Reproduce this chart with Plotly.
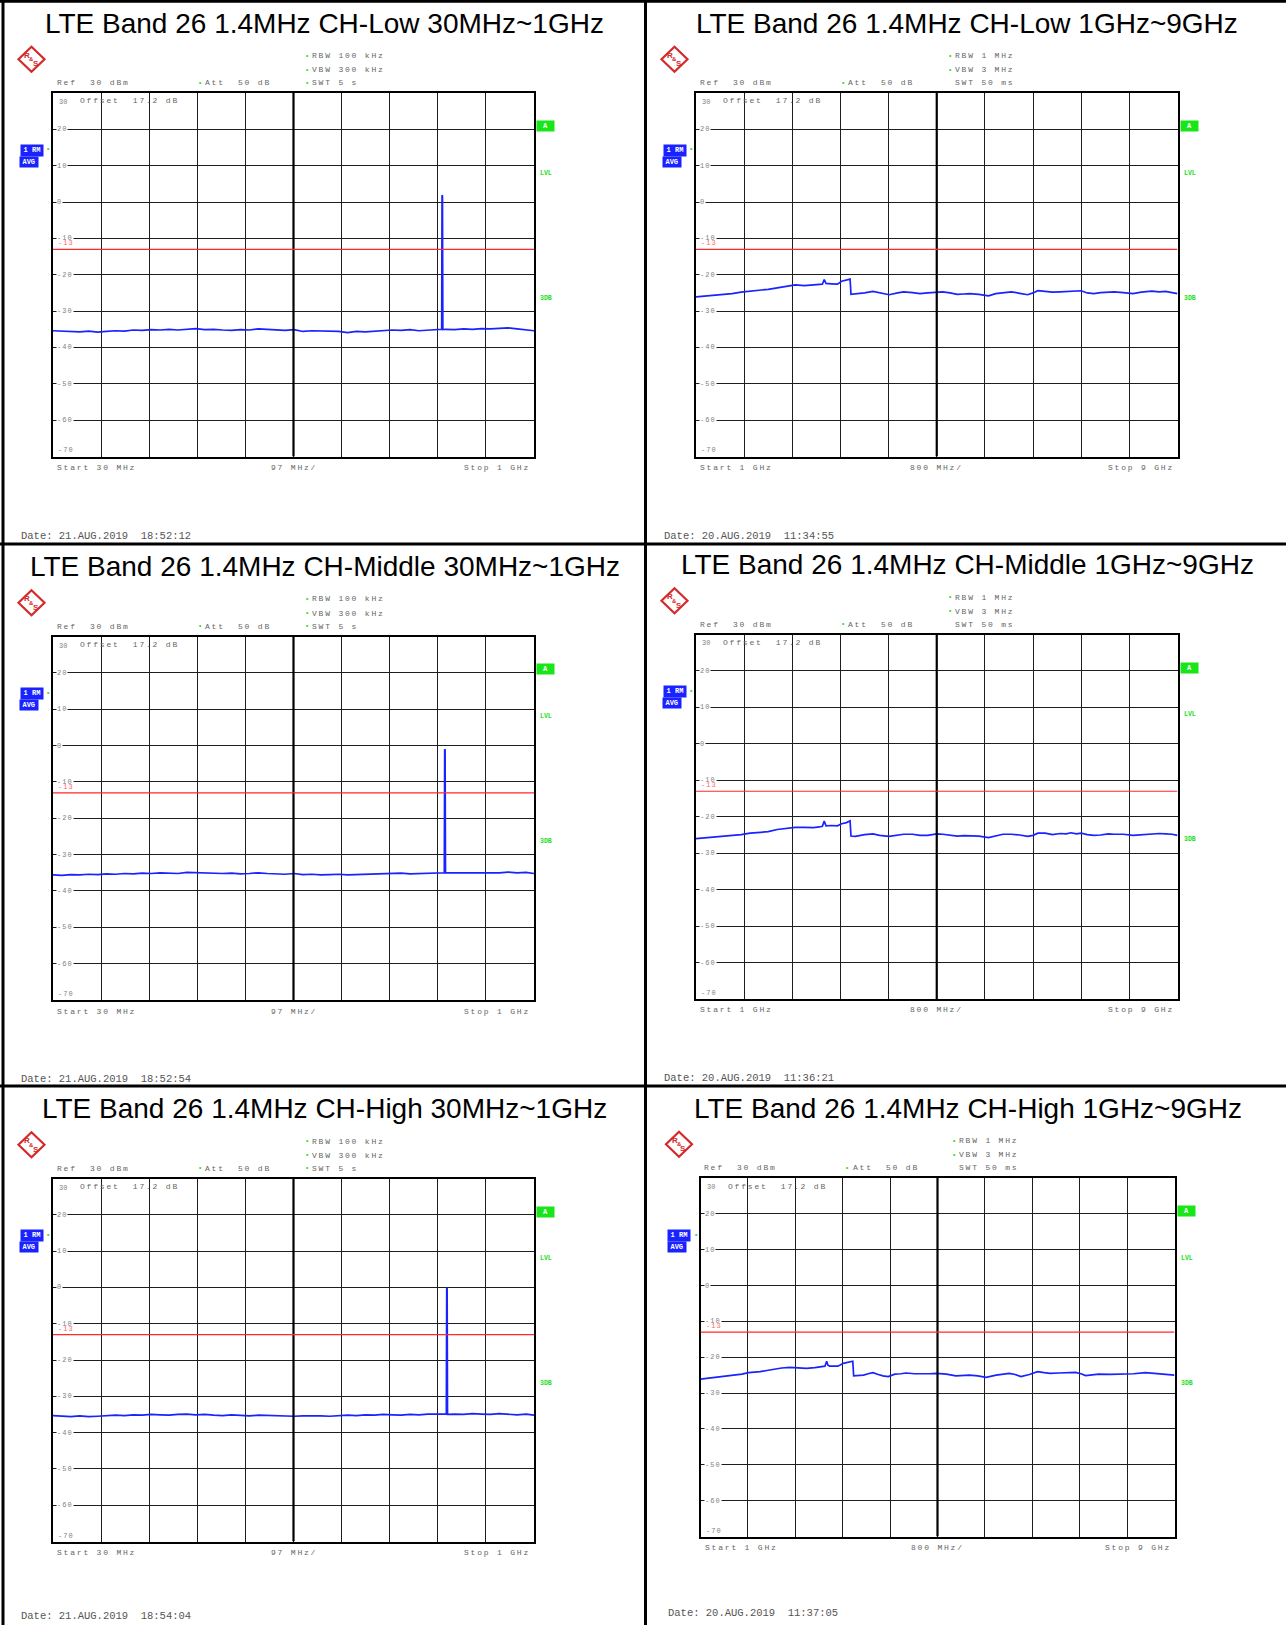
import plotly.graph_objects as go

W, H = 1286, 1625

# ---------------- data ----------------
titles = [
    "LTE Band 26 1.4MHz CH-Low 30MHz~1GHz",
    "LTE Band 26 1.4MHz CH-Low 1GHz~9GHz",
    "LTE Band 26 1.4MHz CH-Middle 30MHz~1GHz",
    "LTE Band 26 1.4MHz CH-Middle 1GHz~9GHz",
    "LTE Band 26 1.4MHz CH-High 30MHz~1GHz",
    "LTE Band 26 1.4MHz CH-High 1GHz~9GHz",
]
dates = [
    "Date: 21.AUG.2019  18:52:12",
    "Date: 20.AUG.2019  11:34:55",
    "Date: 21.AUG.2019  18:52:54",
    "Date: 20.AUG.2019  11:36:21",
    "Date: 21.AUG.2019  18:54:04",
    "Date: 20.AUG.2019  11:37:05",
]
lo_header = ["RBW 100 kHz", "VBW 300 kHz", "SWT 5 s"]
hi_header = ["RBW 1 MHz", "VBW 3 MHz", "SWT 50 ms"]
lo_axis = ["Start 30 MHz", "97 MHz/", "Stop 1 GHz"]
hi_axis = ["Start 1 GHz", "800 MHz/", "Stop 9 GHz"]

y_ticks = [20, 10, 0, -10, -20, -30, -40, -50, -60]
limit_dbm = -13

# 30 MHz ~ 1 GHz sweeps (MHz, dBm)
lo_freq = [30, 48, 66, 84, 102, 120, 138, 156, 174, 192, 210, 228, 246, 264, 282,
           300, 318, 336, 354, 372, 390, 408, 426, 444, 462, 480, 498, 516, 534, 552,
           570, 588, 606, 624, 642, 660, 678, 696, 714, 732, 750, 768, 786, 804, 822,
           840, 858, 876, 894, 912, 930, 948, 966, 984, 1000]
lo_level_low = [-35.4, -35.5, -35.6, -35.7, -35.5, -35.8, -35.6, -35.4, -35.5, -35.2,
                -35.3, -35.1, -35.2, -35.0, -35.2, -35.0, -34.8, -35.1, -35.0, -35.2,
                -35.3, -35.1, -35.2, -34.9, -35.0, -35.2, -35.3, -35.1, -35.6, -35.4,
                -35.5, -35.4, -35.6, -35.9, -35.6, -35.7, -35.5, -35.4, -35.2, -35.3,
                -35.1, -35.4, -35.2, -35.1, -35.0, -35.1, -34.9, -35.0, -34.8, -34.9,
                -34.7, -34.6, -34.9, -35.1, -35.4]
lo_level_mid = [-35.6, -35.7, -35.5, -35.6, -35.4, -35.5, -35.3, -35.4, -35.2, -35.3,
                -35.1, -35.2, -35.0, -35.1, -35.2, -34.9, -35.0, -35.1, -35.3, -35.2,
                -35.1, -35.3, -35.2, -35.0, -35.2, -35.3, -35.4, -35.2, -35.5, -35.4,
                -35.6, -35.5, -35.4, -35.6, -35.5, -35.4, -35.3, -35.4, -35.2, -35.1,
                -35.3, -35.2, -35.1, -35.2, -35.0, -35.1, -34.9, -35.0, -35.1, -34.9,
                -35.0, -34.8, -35.0, -34.9, -35.2]
lo_level_high = [-35.3, -35.5, -35.6, -35.4, -35.6, -35.5, -35.3, -35.2, -35.3, -35.1,
                 -35.2, -35.0, -35.1, -35.2, -35.0, -34.9, -35.1, -35.0, -35.2, -35.3,
                 -35.1, -35.2, -35.4, -35.2, -35.3, -35.4, -35.3, -35.5, -35.4, -35.3,
                 -35.4, -35.5, -35.3, -35.2, -35.3, -35.1, -35.2, -35.0, -35.1, -35.2,
                 -35.0, -35.1, -34.9, -35.0, -35.1, -34.9, -35.0, -34.8, -34.9, -35.0,
                 -34.8, -34.9, -35.1, -34.9, -35.2]
peak_freq_low = [813.8, 814.6, 815.4, 816.2]
peak_level_low = [-35.0, 1.9, 1.7, -35.1]
peak_freq_mid = [819.1, 819.9, 820.7, 821.5]
peak_level_mid = [-35.0, -1.0, -1.2, -35.0]
peak_freq_high = [823.2, 824.0, 824.8, 825.6]
peak_level_high = [-34.9, -0.1, -0.3, -35.0]

# 1 GHz ~ 9 GHz sweeps (GHz, dBm)
hi_freq = [1.00, 1.15, 1.30, 1.45, 1.60, 1.75, 1.90, 2.05, 2.20, 2.35,
           2.50, 2.65, 2.80, 2.95, 3.05, 3.10, 3.13, 3.16, 3.25, 3.35,
           3.42, 3.50, 3.56, 3.575, 3.65, 3.80, 3.94, 4.05, 4.21, 4.35,
           4.45, 4.60, 4.72, 4.85, 5.00, 5.10, 5.22, 5.34, 5.45, 5.55,
           5.70, 5.86, 5.98, 6.10, 6.24, 6.38, 6.51, 6.60, 6.68, 6.80,
           6.92, 7.05, 7.15, 7.23, 7.32, 7.40, 7.50, 7.61, 7.72, 7.85,
           7.95, 8.10, 8.26, 8.40, 8.57, 8.70, 8.80, 8.91, 9.00]
hi_level_low = [-26.1, -25.9, -25.7, -25.5, -25.2, -24.8, -24.6, -24.3, -24.0, -23.6,
                -23.2, -22.8, -23.0, -22.9, -22.7, -22.6, -21.3, -22.4, -22.5, -22.6,
                -21.8, -21.5, -21.2, -25.4, -25.3, -25.0, -24.6, -25.0, -25.5, -25.0,
                -24.7, -24.9, -25.2, -25.0, -24.8, -24.7, -25.0, -25.4, -25.3, -25.2,
                -25.4, -25.8, -25.2, -24.9, -24.7, -25.1, -25.5, -25.0, -24.4, -24.6,
                -24.8, -24.7, -24.6, -24.5, -24.6, -24.4, -25.0, -25.2, -24.9, -24.8,
                -24.7, -24.9, -25.2, -24.8, -24.5, -24.7, -24.6, -24.9, -25.2]
hi_level_mid = [-26.0, -25.8, -25.6, -25.4, -25.1, -24.9, -24.5, -24.2, -24.1, -23.5,
                -23.1, -22.9, -22.9, -23.0, -22.8, -22.6, -21.2, -22.5, -22.4, -22.5,
                -21.9, -21.6, -21.1, -25.3, -25.4, -24.9, -24.7, -25.1, -25.4, -25.1,
                -24.8, -24.8, -25.1, -25.1, -24.7, -24.8, -25.1, -25.3, -25.2, -25.3,
                -25.3, -25.7, -25.3, -24.8, -24.8, -25.0, -25.4, -25.1, -24.5, -24.5,
                -24.9, -24.6, -24.7, -24.4, -24.7, -24.5, -24.9, -25.1, -25.0, -24.7,
                -24.8, -24.8, -25.1, -24.9, -24.6, -24.6, -24.7, -24.8, -25.1]
hi_freq_high = [1.00, 1.17, 1.34, 1.45, 1.57, 1.70, 1.81, 1.92, 2.01, 2.12,
                2.23, 2.37, 2.51, 2.65, 2.79, 2.93, 3.07, 3.10, 3.13, 3.15,
                3.18, 3.25, 3.32, 3.41, 3.49, 3.57, 3.585, 3.66, 3.75, 3.83,
                3.91, 4.00, 4.08, 4.17, 4.28, 4.38, 4.47, 4.61, 4.75, 4.87,
                4.98, 5.07, 5.15, 5.31, 5.42, 5.54, 5.68, 5.82, 5.99, 6.10,
                6.21, 6.31, 6.41, 6.55, 6.69, 6.80, 6.90, 7.05, 7.20, 7.33,
                7.42, 7.50, 7.61, 7.72, 7.92, 8.11, 8.31, 8.51, 8.65, 8.79,
                8.90, 9.00]
hi_level_high = [-26.1, -25.8, -25.4, -25.3, -25.0, -24.7, -24.3, -24.2, -24.0, -23.7,
                 -23.3, -23.0, -22.8, -22.9, -23.1, -22.9, -22.6, -22.5, -21.1, -22.2,
                 -22.5, -22.6, -22.5, -21.7, -21.5, -21.1, -25.2, -25.1, -25.0, -24.6,
                 -24.3, -24.8, -25.2, -25.4, -24.7, -24.6, -24.4, -24.6, -24.7, -24.6,
                 -24.5, -24.6, -24.7, -25.2, -25.1, -25.0, -25.2, -25.6, -25.0, -24.7,
                 -24.5, -24.8, -25.4, -24.8, -24.0, -24.3, -24.5, -24.4, -24.3, -24.2,
                 -24.6, -25.1, -24.9, -24.7, -24.8, -24.8, -24.6, -24.3, -24.5, -24.7,
                 -24.8, -25.0]


def merge(f, l, pf, pl):
    pts = sorted(list(zip(f, l)) + list(zip(pf, pl)))
    return [p[0] for p in pts], [p[1] for p in pts]


sweeps = [
    merge(lo_freq, lo_level_low, peak_freq_low, peak_level_low),
    (hi_freq, hi_level_low),
    merge(lo_freq, lo_level_mid, peak_freq_mid, peak_level_mid),
    (hi_freq, hi_level_mid),
    merge(lo_freq, lo_level_high, peak_freq_high, peak_level_high),
    (hi_freq_high, hi_level_high),
]

# ---------------- layout (pixels) ----------------
# grid box x0, x1, y0, y1, title centre, date y
geo = [
    (53.0, 534.0, 93.0, 456.5, 324, 536),
    (696.0, 1177.5, 93.0, 456.5, 967, 536),
    (53.0, 534.0, 636.5, 1000.0, 325, 1079),
    (696.0, 1177.5, 634.5, 999.0, 967, 1078),
    (53.0, 534.0, 1178.5, 1541.5, 324, 1616),
    (700.5, 1174.5, 1178.0, 1536.5, 968, 1613),
]

MONO = "Liberation Mono, DejaVu Sans Mono, monospace"
SANS = "Liberation Sans, Arial, sans-serif"
GREY = "#666666"
GREEN = "#22dd22"
BLUE = "#1a22ff"

ann = []
shapes = []


def px(x):
    return x / W


def py(y):
    return 1 - y / H


def spaced(t, s=1.8):
    return '<span style="letter-spacing:%spx">%s</span>' % (s, t.replace("  ", " &nbsp;"))


def label(x, y, text, size=8, color=GREY, family=MONO, anchor="left", **kw):
    ann.append(dict(x=px(x), y=py(y), xref="paper", yref="paper", text=text,
                    showarrow=False, xanchor=anchor, yanchor="middle",
                    font=dict(family=family, size=size, color=color), **kw))


def line(x0, y0, x1, y1, width=3, color="black"):
    shapes.append(dict(type="line", xref="paper", yref="paper",
                       x0=px(x0), y0=py(y0), x1=px(x1), y1=py(y1),
                       line=dict(color=color, width=width)))


fig = go.Figure()

for i in range(6):
    x0, x1, y0, y1, tx, dy = geo[i]
    n = "" if i == 0 else str(i + 1)
    xa, ya = "x" + n, "y" + n
    low = i % 2 == 0
    xr = [30, 1000] if low else [1, 9]
    xmid = 515 if low else 5

    f, lv = sweeps[i]
    fig.add_trace(go.Scatter(x=f, y=lv, xaxis=xa, yaxis=ya, mode="lines",
                             line=dict(color=BLUE, width=1.7), hoverinfo="skip"))

    fig.layout["xaxis" + n] = dict(
        domain=[px(x0), px(x1)], range=xr, anchor=ya, tick0=xr[0],
        dtick=97 if low else 0.8, showgrid=True, gridcolor="#1e1e1e", gridwidth=1.4,
        showticklabels=False, ticks="", zeroline=False, showline=True, mirror=True,
        linecolor="black", linewidth=2.2, fixedrange=True)
    fig.layout["yaxis" + n] = dict(
        domain=[py(y1), py(y0)], range=[-70, 30], anchor=xa, tick0=0, dtick=10,
        showgrid=True, gridcolor="#1e1e1e", gridwidth=1.4, showticklabels=False,
        ticks="", zeroline=False, showline=True, mirror=True, linecolor="black",
        linewidth=2.2, fixedrange=True)

    # centre division and limit line
    shapes.append(dict(type="line", xref=xa, yref=ya, x0=xmid, x1=xmid, y0=-70, y1=30,
                       line=dict(color="black", width=2.2)))
    shapes.append(dict(type="line", xref=xa, yref=ya, x0=xr[0], x1=xr[1],
                       y0=limit_dbm, y1=limit_dbm, line=dict(color="#ff2a2a", width=1.2)))

    # level labels inside the grid
    for t in y_ticks:
        ann.append(dict(x=xr[0], y=t, xref=xa, yref=ya, text=spaced(str(t), 1),
                        showarrow=False, xanchor="left", yanchor="middle", xshift=3,
                        bgcolor="white", borderpad=0,
                        font=dict(family=MONO, size=7, color="#808080")))
    ann.append(dict(x=xr[0], y=30, xref=xa, yref=ya, text="30", showarrow=False,
                    xanchor="left", yanchor="middle", xshift=4, yshift=-9,
                    font=dict(family=MONO, size=7, color="#808080")))
    ann.append(dict(x=xr[0], y=-70, xref=xa, yref=ya, text=spaced("-70", 1),
                    showarrow=False, xanchor="left", yanchor="middle", xshift=3, yshift=6,
                    font=dict(family=MONO, size=7, color="#808080")))
    ann.append(dict(x=xr[0], y=limit_dbm, xref=xa, yref=ya, text=spaced("-13", 1),
                    showarrow=False, xanchor="left", yanchor="middle", xshift=3, yshift=6,
                    font=dict(family=MONO, size=7, color="#ff6a6a")))
    ann.append(dict(x=xr[0], y=30, xref=xa, yref=ya, text=spaced("Offset  17.2 dB"),
                    showarrow=False, xanchor="left", yanchor="middle", xshift=25, yshift=-8,
                    font=dict(family=MONO, size=8, color=GREY)))

    # title
    label(tx, y0 - 70, titles[i], size=28, color="black", family=SANS, anchor="center")

    # header block
    hdr = lo_header if low else hi_header
    label(x0 + 256.5, y0 - 37.5, spaced(hdr[0]))
    label(x0 + 256.5, y0 - 23.2, spaced(hdr[1]))
    label(x0 + 256.5, y0 - 10.4, spaced(hdr[2]))
    label(x0 + 253.5, y0 - 37.5, "•", size=7, color=GREEN, anchor="center")
    label(x0 + 253.5, y0 - 23.2, "•", size=7, color=GREEN, anchor="center")
    if low:
        label(x0 + 253.5, y0 - 10.4, "•", size=7, color=GREEN, anchor="center")
    label(x0 + 1.5, y0 - 10.4, spaced("Ref  30 dBm"))
    label(x0 + 146.5, y0 - 10.4, "•", size=7, color=GREEN, anchor="center")
    label(x0 + 150, y0 - 10.4, spaced("Att  50 dB"))

    # bottom labels
    ax = lo_axis if low else hi_axis
    label(x0 + 2, y1 + 11, spaced(ax[0]))
    label((x0 + x1) / 2, y1 + 11, spaced(ax[1]), anchor="center")
    label(x1 - 2, y1 + 11, spaced(ax[2]), anchor="right")
    label(x0 - 34.5, dy, dates[i].replace("  ", " &nbsp;"), size=10.5, color="#555555")

    # side indicators
    label(x1 + 11.5, y0 + 33, "<b>A</b>", size=7, color="white", anchor="center",
          bgcolor="#19e619", width=17, height=10, borderpad=0)
    label(x1 + 12, y0 + 80, "<b>LVL</b>", size=6.5, color=GREEN, anchor="center")
    label(x1 + 12, y0 + 205, "<b>3DB</b>", size=6.5, color=GREEN, anchor="center")
    label(x0 - 21.5, y0 + 57, "<b>1 RM</b>", size=7, color="white", anchor="center",
          bgcolor=BLUE, width=22, height=10.5, borderpad=0)
    label(x0 - 23.8, y0 + 68.5, "<b>AVG</b>", size=7, color="white", anchor="center",
          bgcolor=BLUE, width=17.5, height=9.5, borderpad=0)
    label(x0 - 4.8, y0 + 56.5, "•", size=7, color=GREEN, anchor="center")

    # R&S logo
    cx, cy = x0 - 21.5, y0 - 33.7
    path = "M %f,%f L %f,%f L %f,%f L %f,%f Z" % (
        px(cx), py(cy - 12.5), px(cx + 13), py(cy), px(cx), py(cy + 12.5), px(cx - 13), py(cy))
    shapes.append(dict(type="path", xref="paper", yref="paper", path=path,
                       line=dict(color="#d42a2a", width=2.2), fillcolor="white"))
    label(cx - 4, cy - 4, "<b>R</b>", size=8, color="#d42a2a", family=SANS, anchor="center")
    label(cx, cy, "<b>&amp;</b>", size=6, color="#d42a2a", family=SANS, anchor="center")
    label(cx + 4, cy + 4.5, "<b>S</b>", size=8, color="#d42a2a", family=SANS, anchor="center")

# table rules
line(3, 0, 3, H)
line(645.5, 0, 645.5, H)
line(0, 1.2, W, 1.2)
line(0, 544, W, 544)
line(0, 1086, W, 1086)

fig.update_layout(width=W, height=H, autosize=False, showlegend=False,
                  margin=dict(l=0, r=0, t=0, b=0, pad=0),
                  plot_bgcolor="white", paper_bgcolor="white",
                  annotations=ann, shapes=shapes)

fig.write_html("out.html", config={"displayModeBar": False},
               post_script="document.body.style.margin='0';")
